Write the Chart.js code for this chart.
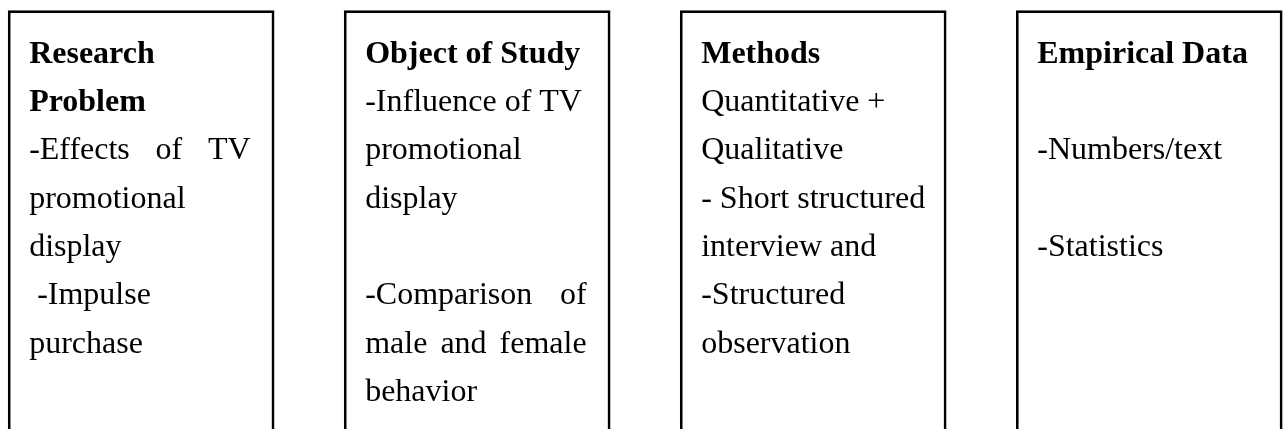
<!DOCTYPE html>
<html>
<head>
<meta charset="utf-8">
<script src="https://cdn.jsdelivr.net/npm/chart.js@4.4.1/dist/chart.umd.min.js"></script>
<style>
  html, body { margin: 0; padding: 0; background: #fff; }
  #wrap { position: relative; width: 1286px; height: 429px; }
</style>
</head>
<body>
<div id="wrap"><canvas id="boxChart"></canvas></div>
<script>
// four column boxes, one per research step
const categories = ['Research Problem', 'Object of Study', 'Methods', 'Empirical Data'];
const boxIndex = [1, 2, 3, 4];
// vertical extent of each box, in text-line units (top edge, bottom edge past the page)
const boxTop = [-0.08, -0.08, -0.08, -0.08];
const boxBottom = [9, 9, 9, 9];

const headingLines = [
    ['Research', 'Problem'],
    ['Object of Study'],
    ['Methods'],
    ['Empirical Data']
];
const bodyLines = [
    ['-Effects of TV', 'promotional', 'display', ' -Impulse', 'purchase'],
    ['-Influence of TV', 'promotional', 'display', '', '-Comparison of', 'male and female', 'behavior'],
    ['Quantitative +', 'Qualitative', '- Short structured', 'interview and', '-Structured', 'observation'],
    ['', '-Numbers/text', '', '-Statistics']
];
// body lines that are justified to the right edge
const justifiedLines = [[0], [4, 5], [], []];

const boxText = {
    id: 'boxText',
    afterDatasetsDraw(chart) {
        const ctx = chart.ctx;
        const y = chart.scales.y;
        const bars = chart.getDatasetMeta(0).data;
        ctx.save();
        ctx.fillStyle = '#000';
        ctx.textAlign = 'left';
        ctx.textBaseline = 'alphabetic';
        bars.forEach((bar, i) => {
            const left = bar.x - bar.width / 2 + 21;
            const right = bar.x + bar.width / 2 - 23.5;
            let line = 1;
            ctx.font = 'bold 32px "Liberation Serif"';
            headingLines[i].forEach(t => {
                ctx.fillText(t, left, y.getPixelForValue(line));
                line++;
            });
            ctx.font = '32px "Liberation Serif"';
            bodyLines[i].forEach((t, j) => {
                const py = y.getPixelForValue(line);
                if (justifiedLines[i].includes(j)) {
                    const words = t.trim().split(/\s+/);
                    const total = words.reduce((s, w) => s + ctx.measureText(w).width, 0);
                    const gap = (right - left - total) / (words.length - 1);
                    let px = left;
                    words.forEach(w => {
                        ctx.fillText(w, px, py);
                        px += ctx.measureText(w).width + gap;
                    });
                } else {
                    ctx.fillText(t, left, py);
                }
                line++;
            });
        });
        ctx.restore();
    }
};

const ctx = document.getElementById('boxChart').getContext('2d');
new Chart(ctx, {
    type: 'bar',
    data: {
        datasets: [{
            label: 'Steps',
            data: boxIndex.map((x, i) => ({ x: x, y: [boxTop[i], boxBottom[i]] })),
            backgroundColor: 'rgba(255,255,255,0)',
            borderColor: '#000',
            borderWidth: 2,
            borderSkipped: false,
            barThickness: 266
        }]
    },
    options: {
        responsive: true,
        maintainAspectRatio: false,
        animation: false,
        layout: { padding: 0 },
        plugins: {
            legend: { display: false },
            tooltip: { enabled: false },
            title: { display: false }
        },
        scales: {
            x: { type: 'linear', min: 0.58, max: 4.407, offset: false, display: false },
            y: { type: 'linear', reverse: true, min: -0.3, max: 8.58, display: false }
        }
    },
    plugins: [boxText]
});
</script>
</body>
</html>
